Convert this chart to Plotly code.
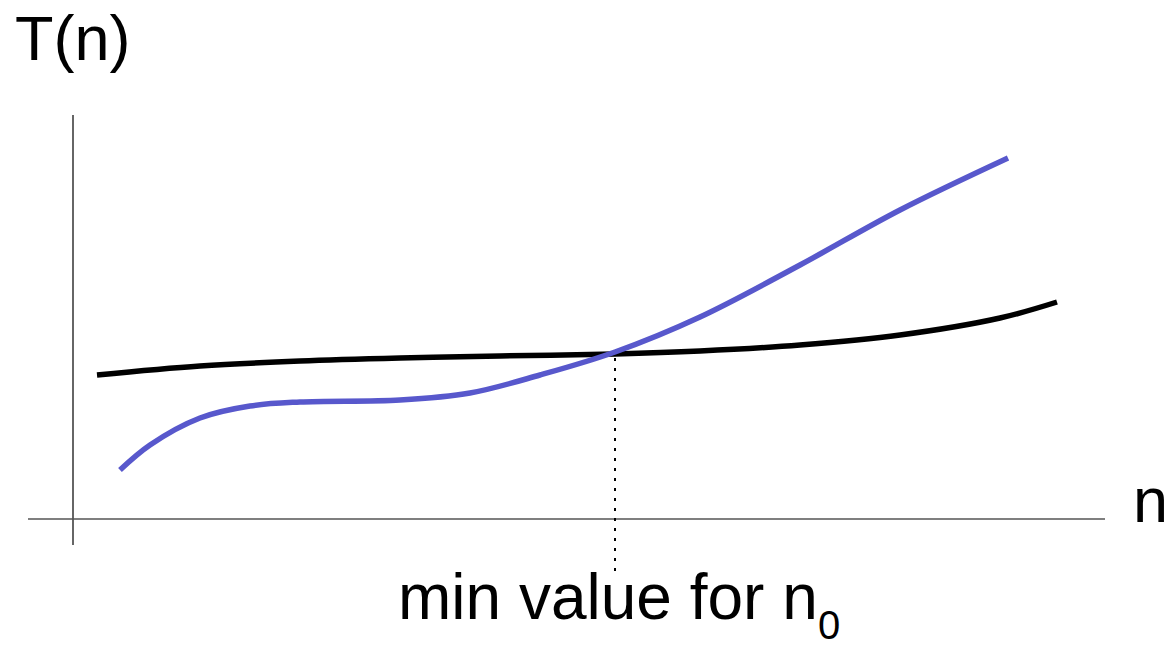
import plotly.graph_objects as go

# Data (abstract units: origin at axes crossing)
black_n = [24, 127, 227, 327, 427, 542, 627, 727, 827, 927, 984]
black_T = [144, 153, 158, 161, 163, 165, 168, 174, 184, 201, 217]

blue_n = [47, 77, 127, 177, 227, 327, 397, 467, 542, 627, 727, 827, 935]
blue_T = [49, 74, 101, 113, 117, 119, 126, 144, 167, 202, 254, 309, 361]

n0 = 542
n0_T = 165

fig = go.Figure()

# axes
fig.add_trace(go.Scatter(x=[0, 0], y=[-26, 404], mode="lines",
                         line=dict(color="#333333", width=1.5), hoverinfo="skip"))
fig.add_trace(go.Scatter(x=[-45, 1032], y=[0, 0], mode="lines",
                         line=dict(color="#555555", width=1.5), hoverinfo="skip"))

# dotted n0 line
fig.add_trace(go.Scatter(x=[n0, n0], y=[n0_T - 4, -53], mode="lines",
                         line=dict(color="black", width=2, dash="3px,7px"), hoverinfo="skip"))

fig.add_trace(go.Scatter(x=black_n, y=black_T, mode="lines", line_shape="spline",
                         line=dict(color="black", width=5.5)))
fig.add_trace(go.Scatter(x=blue_n, y=blue_T, mode="lines", line_shape="spline",
                         line=dict(color="#5858cc", width=5.5)))

family = "Liberation Sans, Arial, sans-serif"
fig.add_annotation(x=-1, y=481, text="T(n)", showarrow=False,
                   font=dict(family=family, color="black", size=63))
fig.add_annotation(x=1077, y=19, text="n", showarrow=False,
                   font=dict(family=family, color="black", size=63))
fig.add_annotation(x=535, y=-78, text="min value for n", showarrow=False,
                   font=dict(family=family, color="black", size=64))
fig.add_annotation(x=756, y=-106, text="0", showarrow=False,
                   font=dict(family=family, color="black", size=40))

fig.update_layout(width=1169, height=657, autosize=False,
                  margin=dict(l=0, r=0, t=0, b=0),
                  paper_bgcolor="white", plot_bgcolor="white",
                  showlegend=False,
                  xaxis=dict(range=[-73, 1096], visible=False),
                  yaxis=dict(range=[-138, 519], visible=False))

fig.write_html("out.html", config={"displayModeBar": False},
               post_script="document.body.style.margin='0';document.body.style.overflow='hidden';")
